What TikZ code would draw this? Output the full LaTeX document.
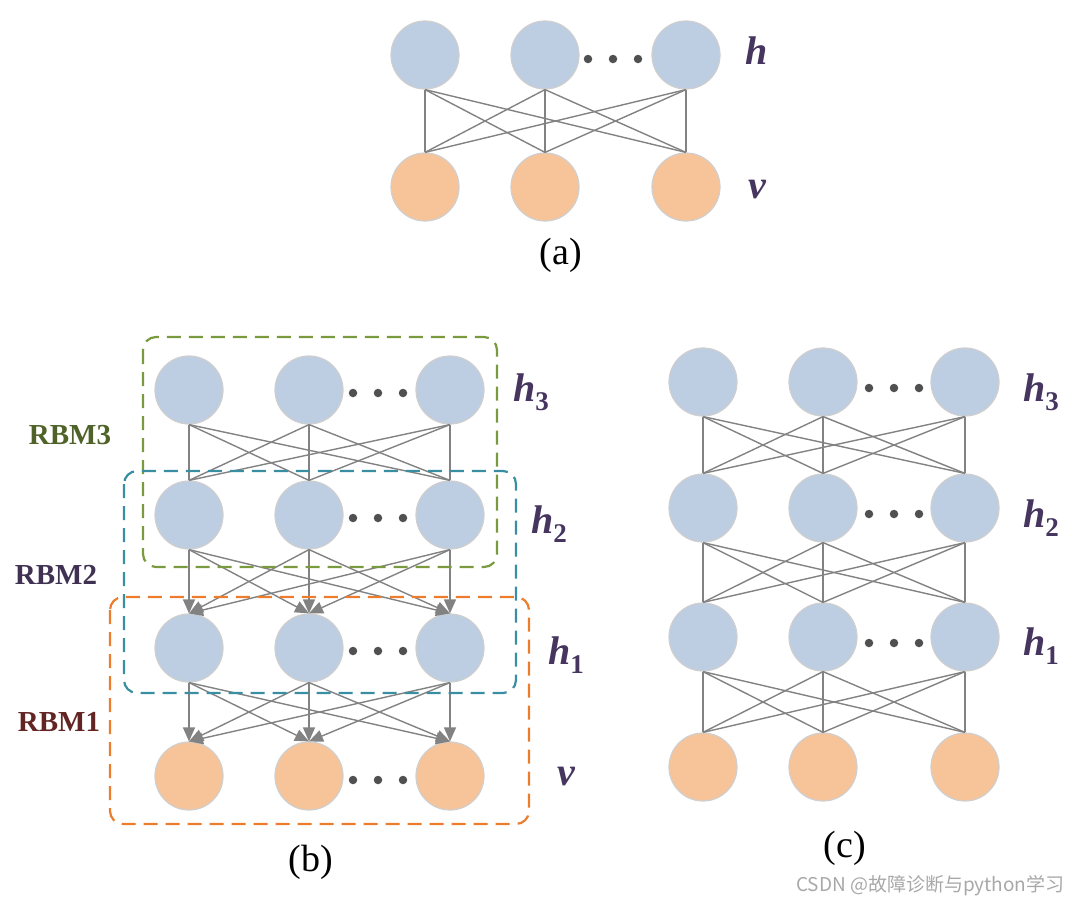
\documentclass[tikz,border=0pt]{standalone}
\usepackage{fontspec}
\setmainfont{Liberation Serif}
\newfontfamily\cjkfont{Noto Sans CJK SC}
\usetikzlibrary{arrows.meta}
\definecolor{hblue}{HTML}{BDCDE2}
\definecolor{vorange}{HTML}{F7C49A}
\definecolor{nodeedge}{HTML}{CFCFCF}
\definecolor{linkgray}{HTML}{828282}
\definecolor{dotgray}{HTML}{505050}
\definecolor{labpurple}{HTML}{46365F}
\definecolor{boxgreen}{HTML}{7A9A3F}
\definecolor{boxteal}{HTML}{3A8EA2}
\definecolor{boxorange}{HTML}{EC7D2C}
\definecolor{rbmgreen}{HTML}{4F6228}
\definecolor{rbmpurple}{HTML}{3F3151}
\definecolor{rbmred}{HTML}{632523}
\definecolor{wmgray}{HTML}{A8A8A8}
\newcommand{\hlab}[2]{{\bfseries\itshape #1}\raisebox{-0.22em}{\fontsize{27}{27}\selectfont\bfseries #2}}
\begin{document}
\begin{tikzpicture}[x=1pt,y=-1pt,
  hunit/.style={circle,fill=hblue,draw=nodeedge,line width=1.2pt,minimum size=68pt,inner sep=0pt},
  vunit/.style={hunit,fill=vorange},
  link/.style={draw=linkgray,line width=1.4pt},
  arr/.style={link,-{Triangle[length=14pt,width=12pt]}},
  dotmark/.style={circle,fill=dotgray,inner sep=0pt,minimum size=8.5pt},
  layerlab/.style={text=labpurple,font=\fontsize{40}{40}\selectfont},
  caplab/.style={font=\fontsize{38}{38}\selectfont},
  rbmlab/.style={font=\fontsize{29}{29}\selectfont\bfseries},
  rbmbox/.style={line width=2.2pt,dash pattern=on 14pt off 8pt,rounded corners=13pt}]
\useasboundingbox (0,0) rectangle (1080,908);

% ---------------- (a) ----------------
\foreach \i/\x in {1/425,2/545,3/686}{
  \node[hunit] (ah\i) at (\x,55) {};
  \node[vunit] (av\i) at (\x,187) {};
}
\foreach \i in {1,2,3}{\foreach \j in {1,2,3}{\draw[link] (ah\i.south) -- (av\j.north);}}
\foreach \k/\x in {1/588,2/613,3/638}{\node[dotmark] (adot\k) at (\x,59) {};}
\node[layerlab] (alh) at (757,55) {\hlab{h}{}};
\node[layerlab] (alv) at (757,190) {\bfseries\itshape v};
\node[caplab] (acap) at (561,255) {(a)};

% ---------------- (b) ----------------
\foreach \r/\y in {3/390,2/515,1/648}{
  \foreach \i/\x in {1/189,2/309,3/450}{\node[hunit] (bh\r\i) at (\x,\y) {};}
  \foreach \k/\x in {1/353,2/378,3/403}{\node[dotmark] (bdot\r\k) at (\x,\y+3) {};}
}
\foreach \i/\x in {1/189,2/309,3/450}{\node[vunit] (bv\i) at (\x,776) {};}
\foreach \k/\x in {1/353,2/378,3/403}{\node[dotmark] (bvdot\k) at (\x,780) {};}
\foreach \i in {1,2,3}{\foreach \j in {1,2,3}{
  \draw[link] (bh3\i.south) -- (bh2\j.north);
  \draw[arr] (bh2\i.south) -- (bh1\j.north);
  \draw[arr] (bh1\i.south) -- (bv\j.north);
}}
\draw[rbmbox,draw=boxgreen] (143,337) rectangle (497,567);
\draw[rbmbox,draw=boxteal] (124,471) rectangle (516,693);
\draw[rbmbox,draw=boxorange] (110,597) rectangle (529,824);
\node[layerlab] (blh3) at (531,392) {\hlab{h}{3}};
\node[layerlab] (blh2) at (549,524) {\hlab{h}{2}};
\node[layerlab] (blh1) at (566,655) {\hlab{h}{1}};
\node[layerlab] (blv) at (566,776) {\bfseries\itshape v};
\node[rbmlab,text=rbmgreen] (rbm3) at (70,435) {RBM3};
\node[rbmlab,text=rbmpurple] (rbm2) at (56,575) {RBM2};
\node[rbmlab,text=rbmred] (rbm1) at (59,722) {RBM1};
\node[caplab] (bcap) at (311,862) {(b)};

% ---------------- (c) ----------------
\foreach \r/\y in {3/382,2/508,1/637}{
  \foreach \i/\x in {1/703,2/823,3/965}{\node[hunit] (ch\r\i) at (\x,\y) {};}
  \foreach \k/\x in {1/869,2/894,3/919}{\node[dotmark] (cdot\r\k) at (\x,\y+6) {};}
}
\foreach \i/\x in {1/703,2/823,3/965}{\node[vunit] (cv\i) at (\x,767) {};}
\foreach \i in {1,2,3}{\foreach \j in {1,2,3}{
  \draw[link] (ch3\i.south) -- (ch2\j.north);
  \draw[link] (ch2\i.south) -- (ch1\j.north);
  \draw[link] (ch1\i.south) -- (cv\j.north);
}}
\node[layerlab] (clh3) at (1041,392) {\hlab{h}{3}};
\node[layerlab] (clh2) at (1041,518) {\hlab{h}{2}};
\node[layerlab] (clh1) at (1041,646) {\hlab{h}{1}};
\node[caplab] (ccap) at (845,848) {(c)};

\node[text=wmgray,font=\cjkfont\fontsize{19}{19}\selectfont,anchor=east] (wm) at (1068,886) {CSDN @故障诊断与python学习};
\end{tikzpicture}
\end{document}
